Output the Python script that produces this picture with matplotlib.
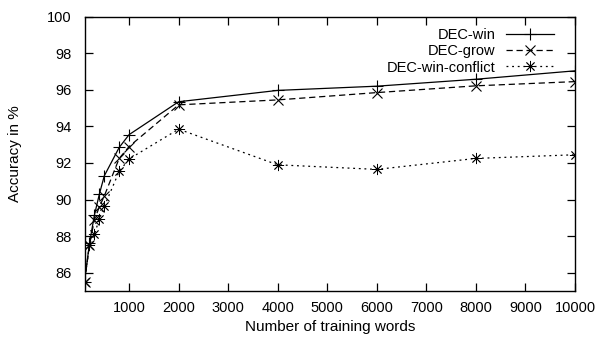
import matplotlib
matplotlib.use("Agg")
import matplotlib.pyplot as plt

plt.rcParams['font.family'] = ['Liberation Sans', 'DejaVu Sans']

x_words = [100, 200, 300, 400, 500, 800, 1000, 2000, 4000, 6000, 8000, 10000]
dec_win = [85.5, 87.6, 89.15, 90.3, 91.3, 92.85, 93.55, 95.35, 95.97, 96.2, 96.58, 97.04]
dec_grow = [85.5, 87.5, 88.9, 89.6, 90.2, 92.25, 92.9, 95.18, 95.45, 95.85, 96.22, 96.45]
dec_conflict = [85.5, 87.54, 88.09, 88.95, 89.63, 91.54, 92.22, 93.85, 91.9, 91.65, 92.25, 92.45]

x_ticks = [1000, 2000, 3000, 4000, 5000, 6000, 7000, 8000, 9000, 10000]
y_ticks = [86, 88, 90, 92, 94, 96, 98, 100]

fig = plt.figure(figsize=(6.02, 3.41), dpi=100)
ax = fig.add_axes([84.5/602, 1-291/341, (575-84.5)/602, (291-16.7)/341])

ax.plot(x_words, dec_win, color='black', lw=0.9, marker='+', ms=8, mew=0.8,
        label='DEC-win')
ax.plot(x_words, dec_grow, color='black', lw=0.9, marker='x', ms=6.5, mew=0.8,
        dashes=(5, 3), label='DEC-grow')
ax.plot(x_words, dec_conflict, color='black', lw=0.9, marker=(8, 2, 0), ms=8, mew=0.6,
        dashes=(1.5, 3), label='DEC-win-conflict')

ax.set_xlim(100, 10000)
ax.set_ylim(85, 100)
ax.set_xticks(x_ticks)
ax.set_yticks(y_ticks)
ax.tick_params(direction='in', length=6, width=0.9, top=True, right=True,
               labelsize=10.5, colors='black')
ax.tick_params(axis='x', pad=7)
ax.tick_params(axis='y', pad=9)
for s in ax.spines.values():
    s.set_linewidth(1.0)

ax.set_xlabel('Number of training words', fontsize=11, labelpad=4)
ax.set_ylabel('Accuracy in %', fontsize=11, labelpad=18)

leg = ax.legend(loc='upper right', bbox_to_anchor=(0.975, 0.99), frameon=False,
                markerfirst=False, fontsize=10.5, handlelength=3.3,
                labelspacing=0.15, handletextpad=0.7, borderaxespad=0.2)
for t in leg.get_texts():
    t.set_ha('right')
leg._legend_box.align = 'right'

fig.savefig('out.png', dpi=100)
